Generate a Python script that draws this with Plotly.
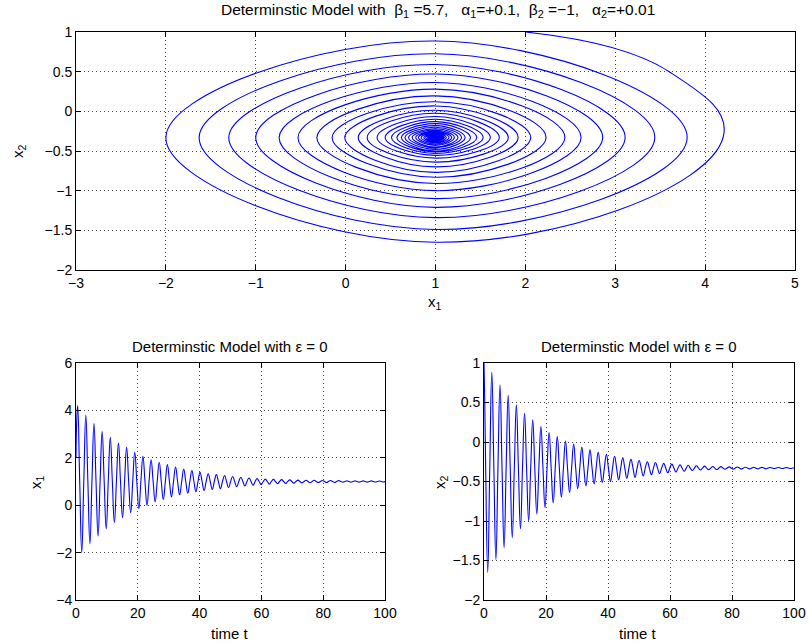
import plotly.graph_objects as go

# ---- data ----
# first samples of the trajectory (start of the outer arc)
t_start = [0.0, 0.25]
x1_start = [2.0, 3.6]
x2_start = [1.0, 0.5]
x1_mid, x2_mid = 1.0, -0.33            # level each curve crosses while the other is at an extremum
x1_end, x2_end = 1.0, -0.33            # values at t = 100

# extrema of every oscillation cycle
t_x1max = [0.54, 3.18, 5.82, 8.46, 11.10, 13.74, 16.38, 19.02, 21.66, 24.30, 26.94, 29.58, 32.22,
           34.86, 37.50, 40.14, 42.78, 45.42, 48.06, 50.70, 53.34, 55.98, 58.62, 61.26, 63.90, 66.54,
           69.18, 71.82, 74.46, 77.10, 79.74, 82.38, 85.02, 87.66, 90.30, 92.94, 95.58, 98.22]
x1max = [4.20, 3.80, 3.44, 3.11, 2.86, 2.62, 2.44, 2.23, 2.06, 1.92, 1.81, 1.71, 1.61,
         1.53, 1.46, 1.39, 1.33, 1.29, 1.25, 1.21, 1.18, 1.15, 1.12, 1.10, 1.09, 1.08,
         1.07, 1.06, 1.055, 1.05, 1.045, 1.04, 1.035, 1.03, 1.03, 1.025, 1.025, 1.02]

t_x2min = [1.20, 3.84, 6.48, 9.12, 11.76, 14.40, 17.04, 19.68, 22.32, 24.96, 27.60, 30.24, 32.88,
           35.52, 38.16, 40.80, 43.44, 46.08, 48.72, 51.36, 54.00, 56.64, 59.28, 61.92, 64.56, 67.20,
           69.84, 72.48, 75.12, 77.76, 80.40, 83.04, 85.68, 88.32, 90.96, 93.60, 96.24, 98.88]
x2min = [-1.65, -1.49, -1.34, -1.21, -1.10, -1.00, -0.91, -0.83, -0.77, -0.70, -0.64, -0.59, -0.555,
         -0.53, -0.51, -0.50, -0.48, -0.46, -0.45, -0.43, -0.415, -0.40, -0.39, -0.38, -0.37, -0.36,
         -0.355, -0.35, -0.348, -0.345, -0.343, -0.341, -0.34, -0.339, -0.338, -0.337, -0.336, -0.335]

t_x1min = [1.86, 4.50, 7.14, 9.78, 12.42, 15.06, 17.70, 20.34, 22.98, 25.62, 28.26, 30.90, 33.54,
           36.18, 38.82, 41.46, 44.10, 46.74, 49.38, 52.02, 54.66, 57.30, 59.94, 62.58, 65.22, 67.86,
           70.50, 73.14, 75.78, 78.42, 81.06, 83.70, 86.34, 88.98, 91.62, 94.26, 96.90, 99.54]
x1min = [-2.00, -1.63, -1.30, -1.00, -0.74, -0.53, -0.32, -0.15, -0.01, 0.14, 0.24, 0.35, 0.44,
         0.51, 0.57, 0.62, 0.66, 0.70, 0.74, 0.78, 0.81, 0.84, 0.87, 0.89, 0.91, 0.92,
         0.93, 0.94, 0.95, 0.955, 0.96, 0.965, 0.97, 0.97, 0.975, 0.975, 0.98, 0.98]

t_x2max = [2.52, 5.16, 7.80, 10.44, 13.08, 15.72, 18.36, 21.00, 23.64, 26.28, 28.92, 31.56, 34.20,
           36.84, 39.48, 42.12, 44.76, 47.40, 50.04, 52.68, 55.32, 57.96, 60.60, 63.24, 65.88, 68.52,
           71.16, 73.80, 76.44, 79.08, 81.72, 84.36, 87.00, 89.64, 92.28, 94.92, 97.56]
x2max = [0.886, 0.725, 0.59, 0.47, 0.364, 0.28, 0.195, 0.12, 0.068, 0.013, -0.025, -0.065, -0.10,
         -0.13, -0.155, -0.18, -0.20, -0.22, -0.235, -0.25, -0.26, -0.27, -0.28, -0.29, -0.295, -0.30,
         -0.305, -0.31, -0.312, -0.315, -0.317, -0.319, -0.32, -0.321, -0.322, -0.323, -0.324]

x_ticks_top = [-3, -2, -1, 0, 1, 2, 3, 4, 5]
y_ticks_top = [-2, -1.5, -1, -0.5, 0, 0.5, 1]
t_ticks = [0, 20, 40, 60, 80, 100]
y_ticks_bl = [-4, -2, 0, 2, 4, 6]
y_ticks_br = [-2, -1.5, -1, -0.5, 0, 0.5, 1]

# ---- assemble trajectory samples ----
t_seq, x1_seq, x2_seq = list(t_start), list(x1_start), list(x2_start)
for k in range(len(t_x1max)):
    t_seq.append(t_x1max[k]); x1_seq.append(x1max[k]); x2_seq.append(x2_mid)
    t_seq.append(t_x2min[k]); x1_seq.append(x1_mid); x2_seq.append(x2min[k])
    t_seq.append(t_x1min[k]); x1_seq.append(x1min[k]); x2_seq.append(x2_mid)
    if k < len(t_x2max):
        t_seq.append(t_x2max[k]); x1_seq.append(x1_mid); x2_seq.append(x2max[k])
t_seq.append(100.0); x1_seq.append(x1_end); x2_seq.append(x2_end)

BLUE = "rgb(0,0,255)"
FONT = "Liberation Sans, Arial, Helvetica, sans-serif"
W, H = 809, 644
TICK_FS = 14
TITLE_FS = 15

def dom(a, b, total):
    return [a / total, b / total]

fig = go.Figure()
line = dict(color=BLUE, width=1.1, shape="spline", smoothing=1.3)
fig.add_trace(go.Scatter(x=x1_seq, y=x2_seq, mode="lines", line=line, xaxis="x", yaxis="y", showlegend=False))
fig.add_trace(go.Scatter(x=t_seq, y=x1_seq, mode="lines", line=line, xaxis="x2", yaxis="y2", showlegend=False))
fig.add_trace(go.Scatter(x=t_seq, y=x2_seq, mode="lines", line=line, xaxis="x3", yaxis="y3", showlegend=False))

def ax(**kw):
    base = dict(showline=True, linecolor="black", linewidth=1, mirror="ticks", ticks="inside",
                ticklen=5, tickcolor="black", showgrid=True, gridcolor="rgb(70,70,70)",
                griddash="1px,3px", gridwidth=1, zeroline=False, automargin=False,
                tickfont=dict(family=FONT, size=TICK_FS, color="black"), fixedrange=True)
    base.update(kw)
    return base

top_y = [1 - 270 / H, 1 - 32 / H]
bot_y = [1 - 600 / H, 1 - 363 / H]

def txt(text, x, y, size=TITLE_FS, angle=0):
    return dict(text=text, x=x / W, y=1 - y / H, xref="paper", yref="paper", showarrow=False,
                textangle=angle, font=dict(family=FONT, size=size, color="black"),
                xanchor="center", yanchor="middle")

NB = "\u00a0"
top_title = ("Determinstic Model with" + NB * 2 + "β<sub>1</sub> =5.7," + NB * 3 + "α<sub>1</sub>=+0.1,"
             + NB * 2 + "β<sub>2</sub> =−1," + NB * 3 + "α<sub>2</sub>=+0.01")

fig.update_layout(
    template="none",
    width=W, height=H, margin=dict(l=0, r=0, t=0, b=0),
    paper_bgcolor="white", plot_bgcolor="white",
    font=dict(family=FONT, size=TICK_FS, color="black"),
    xaxis=ax(domain=dom(76, 795, W), range=[-3, 5], tickvals=x_ticks_top, anchor="y"),
    yaxis=ax(domain=top_y, range=[-2, 1], tickvals=y_ticks_top, anchor="x"),
    xaxis2=ax(domain=dom(76, 385, W), range=[0, 100], tickvals=t_ticks, anchor="y2"),
    yaxis2=ax(domain=bot_y, range=[-4, 6], tickvals=y_ticks_bl, anchor="x2"),
    xaxis3=ax(domain=dom(484, 794, W), range=[0, 100], tickvals=t_ticks, anchor="y3"),
    yaxis3=ax(domain=bot_y, range=[-2, 1], tickvals=y_ticks_br, anchor="x3"),
    annotations=[
        txt(top_title, 438, 11, size=15.5),
        txt("Determinstic Model with ε = 0", 230, 346),
        txt("Determinstic Model with ε = 0", 639, 346),
        txt("x<sub>1</sub>", 435, 302),
        txt("x<sub>2</sub>", 18, 151, angle=-90),
        txt("time t", 230, 633),
        txt("x<sub>1</sub>", 36, 482, angle=-90),
        txt("time t", 638, 633),
        txt("x<sub>2</sub>", 440, 482, angle=-90),
    ],
)

fig.write_html("out.html", config={"displayModeBar": False},
               post_script="document.body.style.margin='0';document.body.style.padding='0';"
                           "document.documentElement.style.overflow='hidden';")
